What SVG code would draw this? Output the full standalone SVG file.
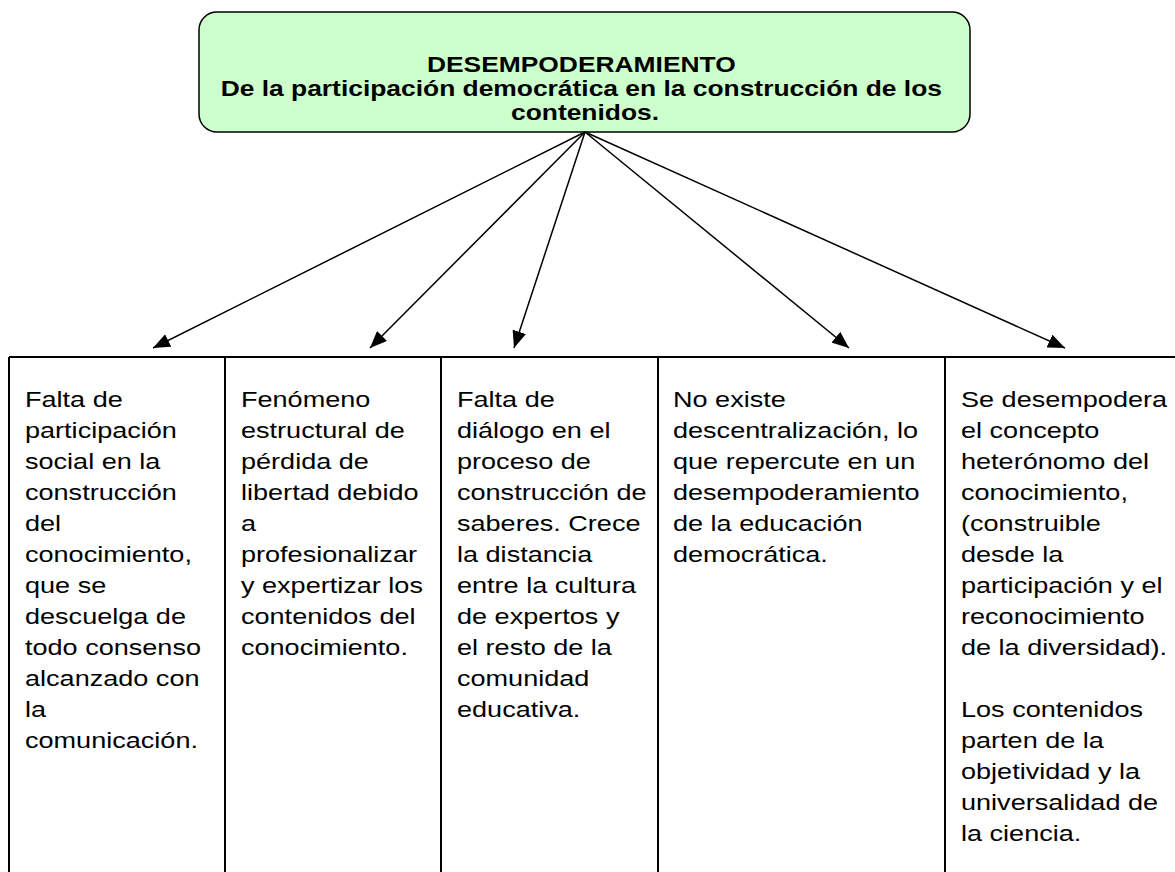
<svg xmlns="http://www.w3.org/2000/svg" width="1175" height="872" viewBox="0 0 1175 872">
<style>
.title{font-family:"Liberation Sans",Arial,sans-serif;font-weight:bold;font-size:22px;fill:#000;text-anchor:middle}
.body{font-family:"Liberation Sans",Arial,sans-serif;font-size:22px;fill:#000}
.conn{stroke:#000;stroke-width:1.5;fill:none}
.grid{stroke:#000;stroke-width:2;fill:none}
</style>
<defs>
<marker id="ah" viewBox="0 0 10 10" refX="10" refY="5" markerWidth="17" markerHeight="14" markerUnits="userSpaceOnUse" orient="auto" preserveAspectRatio="none">
<path d="M0,0 L10,5 L0,10 z" fill="#000"/>
</marker>
</defs>
<g id="top">
<rect x="199" y="12" width="771" height="120" rx="18" ry="18" fill="#ccffcc" stroke="#000" stroke-width="1.5"/>
<text class="title" transform="matrix(1.2 0 0 1 585 0)">
<tspan x="0" y="72">DESEMPODERAMIENTO</tspan>
<tspan x="0" y="96">De la participación democrática en la construcción de los</tspan>
<tspan x="0" y="120">contenidos.</tspan>
</text>
</g>
<g id="connectors">
<line class="conn" x1="585" y1="132" x2="153" y2="348" marker-end="url(#ah)"/>
<line class="conn" x1="585" y1="132" x2="370" y2="348" marker-end="url(#ah)"/>
<line class="conn" x1="585" y1="132" x2="514" y2="348" marker-end="url(#ah)"/>
<line class="conn" x1="585" y1="132" x2="849" y2="348" marker-end="url(#ah)"/>
<line class="conn" x1="585" y1="132" x2="1065" y2="348" marker-end="url(#ah)"/>
</g>
<g id="table">
<line class="grid" x1="9" y1="357" x2="1175" y2="357"/>
<line class="grid" x1="9" y1="357" x2="9" y2="872"/>
<line class="grid" x1="225" y1="357" x2="225" y2="872"/>
<line class="grid" x1="441" y1="357" x2="441" y2="872"/>
<line class="grid" x1="658" y1="357" x2="658" y2="872"/>
<line class="grid" x1="945" y1="357" x2="945" y2="872"/>
</g>
<g id="col1">
<text class="body" transform="matrix(1.23 0 0 1 25 0)">
<tspan x="0" y="407">Falta de</tspan>
<tspan x="0" y="438">participación</tspan>
<tspan x="0" y="469">social en la</tspan>
<tspan x="0" y="500">construcción</tspan>
<tspan x="0" y="531">del</tspan>
<tspan x="0" y="562">conocimiento,</tspan>
<tspan x="0" y="593">que se</tspan>
<tspan x="0" y="624">descuelga de</tspan>
<tspan x="0" y="655">todo consenso</tspan>
<tspan x="0" y="686">alcanzado con</tspan>
<tspan x="0" y="717">la</tspan>
<tspan x="0" y="748">comunicación.</tspan>
</text>
</g>
<g id="col2">
<text class="body" transform="matrix(1.23 0 0 1 241 0)">
<tspan x="0" y="407">Fenómeno</tspan>
<tspan x="0" y="438">estructural de</tspan>
<tspan x="0" y="469">pérdida de</tspan>
<tspan x="0" y="500">libertad debido</tspan>
<tspan x="0" y="531">a</tspan>
<tspan x="0" y="562">profesionalizar</tspan>
<tspan x="0" y="593">y expertizar los</tspan>
<tspan x="0" y="624">contenidos del</tspan>
<tspan x="0" y="655">conocimiento.</tspan>
</text>
</g>
<g id="col3">
<text class="body" transform="matrix(1.23 0 0 1 457 0)">
<tspan x="0" y="407">Falta de</tspan>
<tspan x="0" y="438">diálogo en el</tspan>
<tspan x="0" y="469">proceso de</tspan>
<tspan x="0" y="500">construcción de</tspan>
<tspan x="0" y="531">saberes. Crece</tspan>
<tspan x="0" y="562">la distancia</tspan>
<tspan x="0" y="593">entre la cultura</tspan>
<tspan x="0" y="624">de expertos y</tspan>
<tspan x="0" y="655">el resto de la</tspan>
<tspan x="0" y="686">comunidad</tspan>
<tspan x="0" y="717">educativa.</tspan>
</text>
</g>
<g id="col4">
<text class="body" transform="matrix(1.23 0 0 1 673 0)">
<tspan x="0" y="407">No existe</tspan>
<tspan x="0" y="438">descentralización, lo</tspan>
<tspan x="0" y="469">que repercute en un</tspan>
<tspan x="0" y="500">desempoderamiento</tspan>
<tspan x="0" y="531">de la educación</tspan>
<tspan x="0" y="562">democrática.</tspan>
</text>
</g>
<g id="col5">
<text class="body" transform="matrix(1.23 0 0 1 961 0)">
<tspan x="0" y="407">Se desempodera</tspan>
<tspan x="0" y="438">el concepto</tspan>
<tspan x="0" y="469">heterónomo del</tspan>
<tspan x="0" y="500">conocimiento,</tspan>
<tspan x="0" y="531">(construible</tspan>
<tspan x="0" y="562">desde la</tspan>
<tspan x="0" y="593">participación y el</tspan>
<tspan x="0" y="624">reconocimiento</tspan>
<tspan x="0" y="655">de la diversidad).</tspan>
<tspan x="0" y="717">Los contenidos</tspan>
<tspan x="0" y="748">parten de la</tspan>
<tspan x="0" y="779">objetividad y la</tspan>
<tspan x="0" y="810">universalidad de</tspan>
<tspan x="0" y="841">la ciencia.</tspan>
</text>
</g>
</svg>
